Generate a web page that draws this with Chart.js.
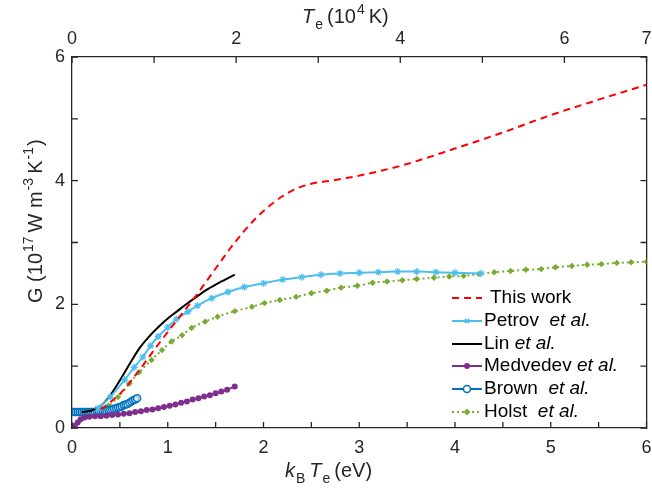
<!DOCTYPE html>
<html>
<head>
<meta charset="utf-8">
<script src="https://cdn.jsdelivr.net/npm/chart.js@4"></script>
<style>
  html, body { margin: 0; padding: 0; background: #fff; }
  #wrap { width: 652px; height: 490px; }
</style>
</head>
<body>
<div id="wrap"><canvas id="gChart" width="652" height="490"></canvas></div>
<script>
// ---- data (x in eV, G in 1e17 W m^-3 K^-1) ----
const thisWorkX = [0.30, 0.50, 0.70, 0.90, 1.10, 1.30, 1.50, 1.70, 1.90, 2.10, 2.30, 2.50, 2.70, 2.90, 3.20, 3.50, 4.00, 4.50, 5.00, 5.50, 6.00];
const thisWorkY = [0.30, 0.55, 0.93, 1.35, 1.75, 2.15, 2.58, 3.00, 3.36, 3.64, 3.84, 3.95, 4.00, 4.05, 4.15, 4.27, 4.52, 4.78, 5.06, 5.31, 5.55];

const petrovX = [0.27, 0.40, 0.55, 0.65, 0.74, 0.82, 0.90, 1.00, 1.09, 1.21, 1.31, 1.46, 1.63, 1.80, 2.00, 2.20, 2.40, 2.60, 2.80, 3.00, 3.20, 3.40, 3.60, 3.80, 4.00, 4.27];
const petrovY = [0.32, 0.50, 0.78, 0.98, 1.15, 1.33, 1.48, 1.63, 1.76, 1.88, 1.98, 2.10, 2.20, 2.28, 2.34, 2.40, 2.44, 2.48, 2.50, 2.51, 2.52, 2.53, 2.53, 2.52, 2.51, 2.50];

const linX = [0.10, 0.20, 0.30, 0.40, 0.50, 0.60, 0.70, 0.80, 0.90, 1.00, 1.10, 1.20, 1.30, 1.40, 1.50, 1.60, 1.70];
const linY = [0.26, 0.28, 0.36, 0.53, 0.77, 1.03, 1.28, 1.47, 1.63, 1.77, 1.89, 2.01, 2.12, 2.23, 2.32, 2.40, 2.48];

const medvedevX = [0.03, 0.06, 0.09, 0.13, 0.18, 0.24, 0.30, 0.36, 0.42, 0.48, 0.54, 0.60, 0.66, 0.72, 0.78, 0.84, 0.90, 0.96, 1.02, 1.08, 1.14, 1.20, 1.26, 1.32, 1.38, 1.44, 1.50, 1.56, 1.62, 1.70];
const medvedevY = [0.04, 0.09, 0.14, 0.17, 0.18, 0.19, 0.19, 0.20, 0.21, 0.22, 0.23, 0.24, 0.26, 0.27, 0.29, 0.30, 0.32, 0.34, 0.36, 0.38, 0.41, 0.43, 0.46, 0.48, 0.51, 0.53, 0.56, 0.59, 0.62, 0.67];

const brownX = [0.00, 0.02, 0.04, 0.06, 0.08, 0.10, 0.12, 0.14, 0.16, 0.18, 0.20, 0.22, 0.24, 0.26, 0.28, 0.30, 0.32, 0.34, 0.36, 0.38, 0.40, 0.42, 0.44, 0.46, 0.48, 0.50, 0.52, 0.54, 0.56, 0.58, 0.60, 0.62, 0.64, 0.66, 0.68];
const brownY = [0.26, 0.26, 0.26, 0.26, 0.26, 0.26, 0.26, 0.26, 0.26, 0.26, 0.26, 0.26, 0.26, 0.27, 0.27, 0.27, 0.28, 0.28, 0.28, 0.29, 0.29, 0.30, 0.31, 0.32, 0.33, 0.34, 0.35, 0.37, 0.38, 0.39, 0.41, 0.43, 0.45, 0.46, 0.48];

const holstX = [0.10, 0.26, 0.38, 0.48, 0.60, 0.70, 0.83, 0.94, 1.04, 1.15, 1.25, 1.39, 1.52, 1.70, 1.88, 2.01, 2.17, 2.34, 2.50, 2.66, 2.81, 2.98, 3.14, 3.29, 3.45, 3.60, 3.78, 3.94, 4.09, 4.25, 4.41, 4.58, 4.74, 4.90, 5.05, 5.22, 5.38, 5.53, 5.69, 5.84, 6.00];
const holstY = [0.24, 0.28, 0.36, 0.50, 0.72, 0.90, 1.10, 1.26, 1.40, 1.50, 1.62, 1.72, 1.80, 1.89, 1.96, 2.02, 2.07, 2.12, 2.18, 2.22, 2.27, 2.30, 2.35, 2.37, 2.39, 2.41, 2.43, 2.45, 2.46, 2.49, 2.52, 2.54, 2.56, 2.57, 2.60, 2.62, 2.64, 2.65, 2.67, 2.68, 2.69];

// tick labels
const bottomTickLabels = ['0', '1', '2', '3', '4', '5', '6'];
const topTickLabels = ['0', '2', '4', '6', '7'];
const leftTickLabels = ['0', '2', '4', '6'];

const FONT = '"Liberation Sans", Arial, sans-serif';
const AXIS = '#262626';

function pts(xs, ys) { return xs.map((x, i) => ({ x: x, y: ys[i] })); }

// legend entries (drawn by hand because of the italic "et al.")
const legendItems = [
    { name: 'This work', etal: false, color: '#FF0000', dash: [7, 5], marker: null },
    { name: 'Petrov', etal: true, gap: '  ', color: '#4DBEEE', dash: [], marker: 'star' },
    { name: 'Lin', etal: true, gap: ' ', color: '#000000', dash: [], marker: null },
    { name: 'Medvedev', etal: true, gap: ' ', color: '#7E2F8E', dash: [], marker: 'circle' },
    { name: 'Brown', etal: true, gap: '  ', color: '#0072BD', dash: [], marker: 'ring' },
    { name: 'Holst', etal: true, gap: '  ', color: '#77AC30', dash: [2, 3], marker: 'diamond' }
];

function drawMarker(ctx, type, x, y, color) {
    ctx.save();
    ctx.strokeStyle = color;
    ctx.fillStyle = color;
    ctx.lineWidth = 1.5;
    ctx.setLineDash([]);
    ctx.beginPath();
    if (type === 'circle') {
        ctx.arc(x, y, 3, 0, Math.PI * 2);
        ctx.fill();
    } else if (type === 'ring') {
        ctx.arc(x, y, 3.5, 0, Math.PI * 2);
        ctx.fillStyle = '#fff';
        ctx.fill();
        ctx.stroke();
    } else if (type === 'diamond') {
        ctx.moveTo(x, y - 3.5); ctx.lineTo(x + 3.5, y); ctx.lineTo(x, y + 3.5); ctx.lineTo(x - 3.5, y);
        ctx.closePath();
        ctx.fill();
    } else if (type === 'star') {
        const r = 3;
        ctx.moveTo(x - r, y); ctx.lineTo(x + r, y);
        ctx.moveTo(x - r * 0.7, y - r * 0.7); ctx.lineTo(x + r * 0.7, y + r * 0.7);
        ctx.moveTo(x - r * 0.7, y + r * 0.7); ctx.lineTo(x + r * 0.7, y - r * 0.7);
        ctx.stroke();
    }
    ctx.restore();
}

// rich text: segments {t, it, sub, sup}
function drawRich(ctx, segs, x, y, size) {
    let cx = x;
    segs.forEach(s => {
        const small = s.sub || s.sup;
        const fs = small ? Math.round(size * 0.72) : size;
        ctx.font = (s.it ? 'italic ' : '') + fs + 'px ' + FONT;
        const dy = s.sub ? size * 0.32 : (s.sup ? -size * 0.45 : 0);
        ctx.fillText(s.t, cx, y + dy);
        cx += ctx.measureText(s.t).width + (s.pad || 0);
    });
}

const decorPlugin = {
    id: 'decor',
    afterDraw(chart) {
        const ctx = chart.ctx;
        const a = chart.chartArea;
        const tl = 6;

        // inward tick marks on all four sides
        ctx.save();
        ctx.strokeStyle = AXIS;
        ctx.lineWidth = 1.3;
        ctx.beginPath();
        chart.scales.x.ticks.forEach(t => {
            const px = chart.scales.x.getPixelForValue(t.value);
            ctx.moveTo(px, a.bottom); ctx.lineTo(px, a.bottom - tl);
        });
        chart.scales.x2.ticks.forEach(t => {
            const px = chart.scales.x2.getPixelForValue(t.value);
            ctx.moveTo(px, a.top); ctx.lineTo(px, a.top + tl);
        });
        chart.scales.y.ticks.forEach(t => {
            const py = chart.scales.y.getPixelForValue(t.value);
            ctx.moveTo(a.left, py); ctx.lineTo(a.left + tl, py);
        });
        chart.scales.y2.ticks.forEach(t => {
            const py = chart.scales.y2.getPixelForValue(t.value);
            ctx.moveTo(a.right, py); ctx.lineTo(a.right - tl, py);
        });
        ctx.stroke();
        ctx.restore();

        // axis titles
        ctx.save();
        ctx.fillStyle = AXIS;
        ctx.textBaseline = 'alphabetic';
        ctx.textAlign = 'left';
        drawRich(ctx, [
            { t: 'k', it: true, pad: 1 }, { t: 'B', sub: true, pad: 4 },
            { t: 'T', it: true, pad: 1 }, { t: 'e', sub: true, pad: 4 }, { t: '(eV)' }
        ], 285, 477, 20);
        drawRich(ctx, [
            { t: 'T', it: true, pad: 1 }, { t: 'e', sub: true, pad: 4 }, { t: '(10', pad: 1 },
            { t: '4', sup: true, pad: 4 }, { t: 'K)' }
        ], 302, 23, 20);
        ctx.translate(42, 303);
        ctx.rotate(-Math.PI / 2);
        drawRich(ctx, [
            { t: 'G (10', pad: 1 }, { t: '17', sup: true, pad: 4 }, { t: 'W m', pad: 1 },
            { t: '-3', sup: true, pad: 4 }, { t: 'K', pad: 1 }, { t: '-1', sup: true, pad: 1 }, { t: ')' }
        ], 0, 0, 20);
        ctx.restore();

        // legend
        const rows = [298, 321, 344, 366, 389, 412];
        ctx.save();
        legendItems.forEach((it, i) => {
            const y = rows[i];
            ctx.strokeStyle = it.color;
            ctx.lineWidth = 2;
            ctx.setLineDash(it.dash);
            ctx.beginPath();
            ctx.moveTo(452, y); ctx.lineTo(482, y);
            ctx.stroke();
            if (it.marker) drawMarker(ctx, it.marker, 467, y, it.color);
            ctx.fillStyle = '#000';
            ctx.textBaseline = 'middle';
            ctx.font = '19px ' + FONT;
            const x0 = it.etal ? 484 : 490;
            ctx.fillText(it.name + (it.etal ? it.gap : ''), x0, y);
            if (it.etal) {
                const w = ctx.measureText(it.name + it.gap).width;
                ctx.font = 'italic 19px ' + FONT;
                ctx.fillText('et al.', x0 + w, y);
            }
        });
        ctx.restore();
    }
};

const tickFont = { family: FONT, size: 18 };
const noGrid = { display: false, drawTicks: false };
const noPadX = s => { s.paddingLeft = 0; s.paddingRight = 0; };
const noPadY = s => { s.paddingTop = 0; s.paddingBottom = 0; };

new Chart(document.getElementById('gChart').getContext('2d'), {
    type: 'line',
    data: {
        datasets: [
            {
                label: 'This work', data: pts(thisWorkX, thisWorkY),
                borderColor: '#FF0000', borderWidth: 2, borderDash: [7, 5],
                pointRadius: 0, cubicInterpolationMode: 'monotone'
            },
            {
                label: 'Petrov et al.', data: pts(petrovX, petrovY),
                borderColor: '#4DBEEE', borderWidth: 2, pointStyle: 'star', pointRadius: 3.5,
                pointBorderColor: '#4DBEEE', pointBorderWidth: 1.3, cubicInterpolationMode: 'monotone'
            },
            {
                label: 'Lin et al.', data: pts(linX, linY),
                borderColor: '#000000', borderWidth: 2, pointRadius: 0, cubicInterpolationMode: 'monotone'
            },
            {
                label: 'Medvedev et al.', data: pts(medvedevX, medvedevY),
                borderColor: '#7E2F8E', borderWidth: 2, pointStyle: 'circle', pointRadius: 3,
                pointBackgroundColor: '#7E2F8E', pointBorderColor: '#7E2F8E', pointBorderWidth: 0
            },
            {
                label: 'Brown et al.', data: pts(brownX, brownY),
                borderColor: '#0072BD', borderWidth: 2, pointStyle: 'circle', pointRadius: 3.5,
                pointBackgroundColor: 'rgba(255,255,255,0.6)', pointBorderColor: '#0072BD', pointBorderWidth: 1.5
            },
            {
                label: 'Holst et al.', data: pts(holstX, holstY),
                borderColor: '#77AC30', borderWidth: 2, borderDash: [2, 3], pointStyle: 'rectRot', pointRadius: 3.2,
                pointBackgroundColor: '#77AC30', pointBorderColor: '#77AC30', pointBorderWidth: 0,
                cubicInterpolationMode: 'monotone'
            }
        ]
    },
    options: {
        responsive: false,
        animation: false,
        layout: { padding: 0 },
        plugins: { legend: { display: false }, tooltip: { enabled: false } },
        scales: {
            x: {
                type: 'linear', position: 'bottom', min: 0, max: 6,
                grid: noGrid,
                border: { display: true, color: AXIS, width: 1.3 },
                ticks: {
                    stepSize: 0.5, autoSkip: false, maxRotation: 0, padding: 9,
                    color: AXIS, font: tickFont,
                    callback: v => Number.isInteger(v) ? bottomTickLabels[v] : ''
                },
                afterFit: s => { s.height = 62; noPadX(s); }
            },
            x2: {
                type: 'linear', position: 'top', min: 0, max: 7,
                grid: noGrid,
                border: { display: true, color: AXIS, width: 1.3 },
                ticks: {
                    stepSize: 1, autoSkip: false, maxRotation: 0, padding: 7,
                    color: AXIS, font: tickFont,
                    callback: v => (v % 2 === 0) ? topTickLabels[v / 2] : (v === 7 ? topTickLabels[4] : '')
                },
                afterFit: s => { s.height = 57; noPadX(s); }
            },
            y: {
                type: 'linear', position: 'left', min: 0, max: 6,
                grid: noGrid,
                border: { display: true, color: AXIS, width: 1.3 },
                ticks: {
                    stepSize: 1, padding: 7, color: AXIS, font: tickFont,
                    callback: v => (v % 2 === 0) ? leftTickLabels[v / 2] : ''
                },
                afterFit: s => { s.width = 72; noPadY(s); }
            },
            y2: {
                type: 'linear', position: 'right', min: 0, max: 6,
                grid: noGrid,
                border: { display: true, color: AXIS, width: 1.3 },
                ticks: { stepSize: 1, display: false },
                afterFit: s => { s.width = 4; noPadY(s); }
            }
        }
    },
    plugins: [decorPlugin]
});
</script>
</body>
</html>
